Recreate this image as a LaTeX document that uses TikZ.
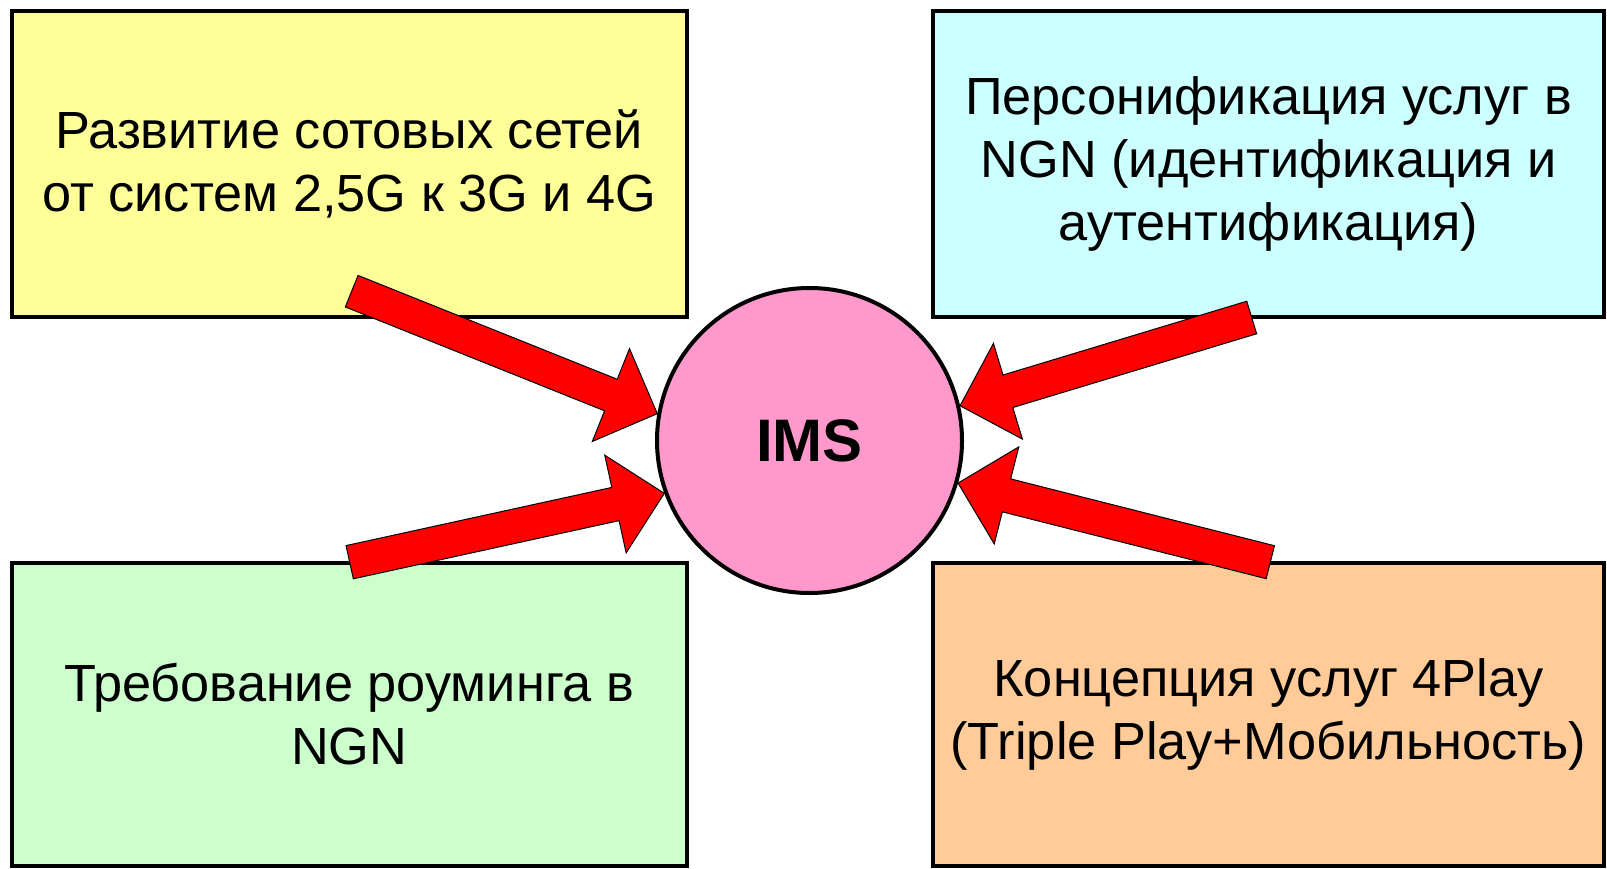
\documentclass[tikz,border=0pt]{standalone}
\usepackage{fontspec}
\setmainfont{Liberation Sans}
\usetikzlibrary{calc}

\definecolor{boxyellow}{HTML}{FFFF99}
\definecolor{boxcyan}{HTML}{CCFFFF}
\definecolor{boxgreen}{HTML}{CCFFCC}
\definecolor{boxorange}{HTML}{FFCC99}
\definecolor{imspink}{HTML}{FF99CC}

\begin{document}
\begin{tikzpicture}[x=1pt, y=-1pt,
		topicbox/.style={draw, line width=4pt, inner sep=0pt, align=center,
				font=\fontsize{52.3}{63}\selectfont},
		fatarrow/.style={draw=black, line width=1pt, fill=red, to path={
						let \p1=($(\tikztotarget)-(\tikztostart)$), \n1={atan2(\y1,\x1)}, \n2={veclen(\x1,\y1)} in
						[shift={(\tikztostart)}, rotate=\n1]
						(0,-17) -- ({\n2-50},-17) -- ({\n2-50},-50) -- (\n2,0) -- ({\n2-50},50) -- ({\n2-50},17) -- (0,17) -- cycle}}]
	\useasboundingbox (0,0) rectangle (1607,869);

	\node[topicbox, fill=boxyellow, minimum width=675.5, minimum height=306] (dev) at (349.25,164)
		{Развитие сотовых сетей\\от систем 2,5G к 3G и 4G};
	\node[topicbox, fill=boxcyan, minimum width=671, minimum height=306] (pers) at (1268.5,164)
		{Персонификация услуг в\\NGN (идентификация и\\аутентификация)};
	\node[topicbox, fill=boxgreen, minimum width=675.5, minimum height=303] (roam) at (349.25,714.5)
		{Требование роуминга в\\NGN};
	\node[topicbox, fill=boxorange, minimum width=671, minimum height=303] (play) at (1268.5,714.5)
		{Концепция услуг 4Play\\(Triple Play+Мобильность)};

	\node[circle, draw, line width=4pt, fill=imspink, minimum size=305, inner sep=0pt,
		font=\fontsize{60}{72}\selectfont\bfseries] (ims) at (809.5,440.5) {IMS};

	\foreach \t/\x/\y/\a in {devt/351.7/291.2/170, roamt/349.7/562.2/200,
			perst/1251.7/317.5/13, playt/1270.3/562.2/344} {
		\coordinate (\t) at (\x,\y);
		\draw[fatarrow] (\t) to (ims.\a);
	}
\end{tikzpicture}
\end{document}
